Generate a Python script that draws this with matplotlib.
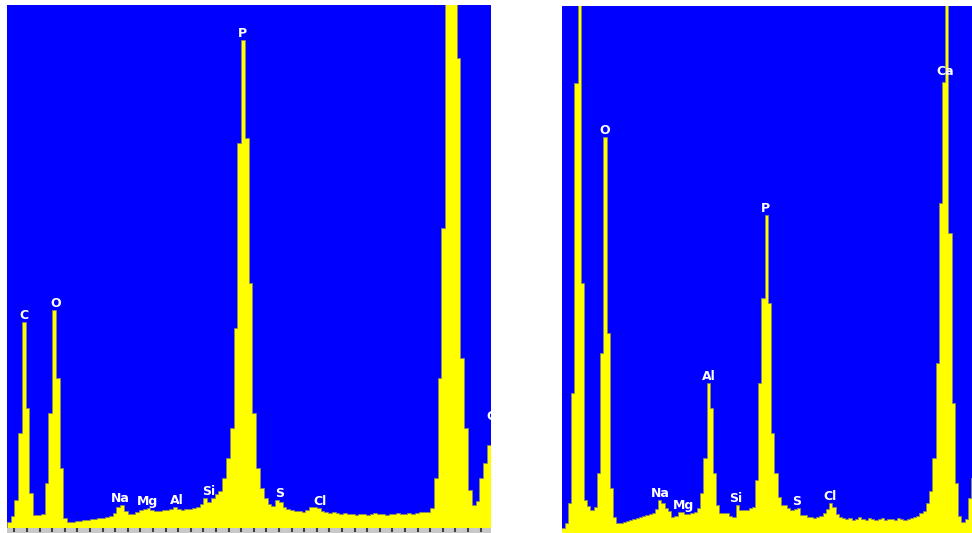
import numpy as np
import matplotlib
matplotlib.use("Agg")
import matplotlib.pyplot as plt

# EDS spectra, 0.03 keV channels, counts
chan_w = 0.03
left_e0 = 0.14
right_e0 = 0.12

left_counts = [
    6, 12, 28, 95, 206, 120, 35, 13, 13, 14,
    45, 115, 218, 150, 60, 10, 6, 6, 7, 7,
    8, 8, 9, 9, 10, 10, 11, 12, 15, 21,
    23, 17, 14, 14, 16, 18, 19, 20, 18, 17,
    17, 18, 18, 19, 21, 19, 18, 19, 19, 20,
    21, 24, 30, 26, 30, 34, 37, 50, 70, 100,
    200, 385, 488, 390, 245, 115, 60, 40, 30, 24,
    22, 28, 26, 21, 19, 18, 17, 17, 16, 18,
    21, 21, 20, 17, 16, 15, 16, 15, 14, 15,
    14, 14, 13, 14, 14, 13, 14, 15, 14, 14,
    13, 14, 14, 15, 14, 14, 15, 14, 15, 16,
    16, 16, 20, 50, 150, 300, 600, 700, 700, 470,
    170, 100, 38, 23, 27, 50, 65, 83, 100, 105,
]

right_counts = [
    5, 10, 30, 140, 450, 800, 250, 33, 27, 23,
    26, 60, 180, 396, 200, 45, 16, 10, 10, 11,
    12, 13, 14, 15, 16, 17, 18, 19, 20, 24,
    33, 30, 25, 22, 16, 17, 21, 21, 19, 19,
    20, 21, 25, 40, 75, 150, 125, 60, 28, 20,
    20, 20, 17, 16, 28, 23, 23, 23, 25, 26,
    53, 150, 235, 318, 230, 100, 60, 36, 28, 28,
    25, 23, 24, 25, 18, 18, 16, 16, 15, 16,
    17, 20, 24, 30, 26, 19, 16, 15, 14, 15,
    13, 14, 16, 14, 13, 15, 14, 13, 14, 15,
    13, 14, 14, 13, 15, 14, 13, 14, 15, 16,
    17, 20, 22, 30, 42, 75, 170, 330, 451, 800,
    300, 130, 50, 17, 11, 14, 35, 55, 70, 72, 60,
]

# element lines (keV)
lines = {"C": 0.277, "O": 0.525, "Na": 1.041, "Mg": 1.254, "Al": 1.487,
         "Si": 1.740, "P": 2.013, "S": 2.307, "Cl": 2.622, "Ca": 3.690,
         "CaKb": 4.013}
left_labels = ["C", "O", "Na", "Mg", "Al", "Si", "P", "S", "Cl", "CaKb"]
right_labels = ["O", "Na", "Mg", "Al", "Si", "P", "S", "Cl", "Ca", "CaKb"]

BLUE = "#0000ff"
YELLOW = "#ffff00"

fig = plt.figure(figsize=(9.72, 5.33), dpi=100)
W, H = 972.0, 533.0


def panel(rect, counts, e0, xlim, ytop, labels):
    ax = fig.add_axes(rect)
    ax.set_facecolor(BLUE)
    counts = np.array(counts, dtype=float)
    edges = e0 + chan_w * np.arange(len(counts) + 1)
    ax.stairs(counts, edges, fill=True, facecolor=YELLOW,
              edgecolor="#8a8a60", linewidth=0.6, baseline=0)
    ax.set_xlim(*xlim)
    ax.set_ylim(0, ytop)
    centers = edges[:-1] + chan_w / 2
    for name in labels:
        e = lines[name]
        near = np.abs(centers - e) <= chan_w * 1.01
        peak = counts[near].max()
        y = ytop - 72 if peak > ytop else peak
        ax.text(e, y, name[:2], ha="center", va="bottom", color="white",
                fontsize=9, fontweight="bold", clip_on=True)
    ax.set_xticks([])
    ax.set_yticks([])
    for s in ax.spines.values():
        s.set_visible(False)
    return ax


# left spectrum (px 7..491, 5..528)
axl = panel([7 / W, 5 / H, 484 / W, 523 / H], left_counts, left_e0,
            (0.142, 3.983), 523, left_labels)

# grey scale strip under the left spectrum
strip = fig.add_axes([7 / W, 0, 484 / W, 5 / H])
strip.set_facecolor("#c8c8c8")
strip.set_xlim(0.142, 3.983)
strip.set_ylim(0, 1)
strip.set_xticks(np.arange(0.2, 4.0, 0.1))
strip.set_yticks([])
strip.xaxis.tick_top()
strip.tick_params(axis="x", direction="in", length=3, width=1.5,
                  color="#404040", labeltop=False, labelbottom=False)
for s in strip.spines.values():
    s.set_visible(False)

# right spectrum (px 562..972, 6..533)
axr = panel([562 / W, 0, 410 / W, 527 / H], right_counts, right_e0,
            (0.125, 3.939), 527, right_labels)

fig.savefig("out.png", dpi=100, facecolor="white")
